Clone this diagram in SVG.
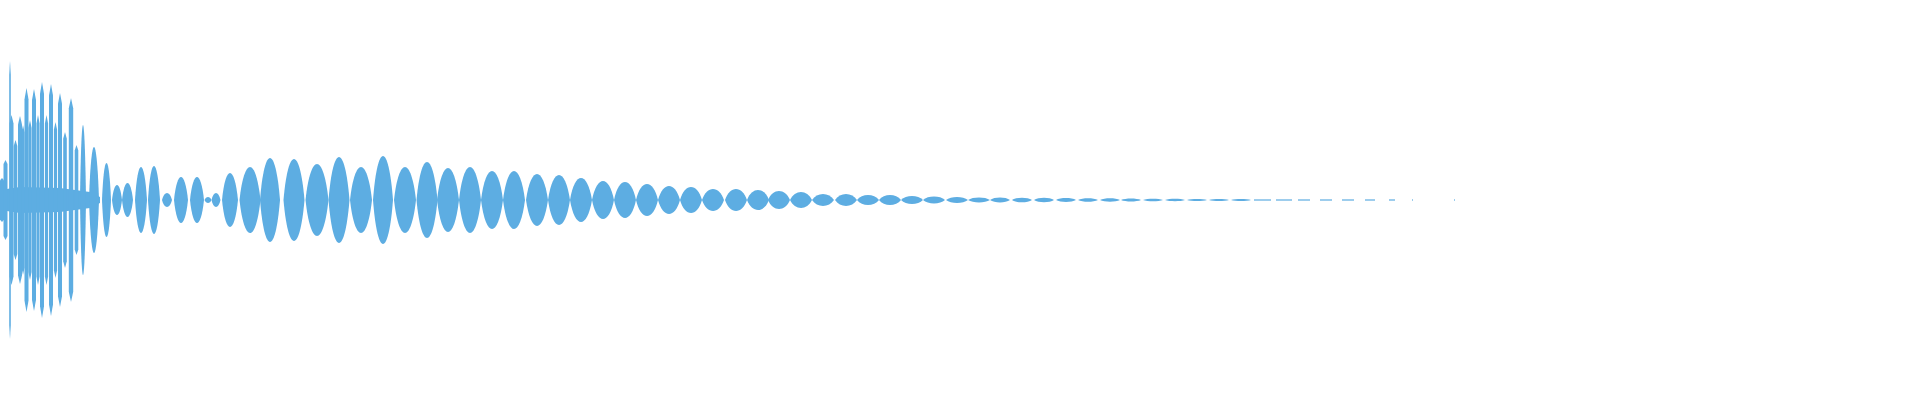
<svg xmlns="http://www.w3.org/2000/svg" xmlns:xlink="http://www.w3.org/1999/xlink" width="1920" height="400" viewBox="0 0 1920 400">
<style>.w{fill:#5DADE2}</style>
<defs>
<path id="L" d="M-1 0C-0.55 -1.333 0.55 -1.333 1 0C0.55 1.333 -0.55 1.333 -1 0Z"/>
<path id="B" d="M-1 -0.9L0 -1L1 -0.9L1 0.9L0 1L-1 0.9Z"/>
</defs>
<rect width="1920" height="400" fill="#fff"/>
<g id="waveform" class="w">
<polygon points="0,190 20,187 60,188 90,192 100,197 100,203 90,208 60,212 20,213 0,210"/>
<use href="#B" transform="translate(10 200) scale(0.8 139)"/>
<use href="#B" transform="translate(2 200) scale(2 22)"/>
<use href="#B" transform="translate(5.5 200) scale(2 40)"/>
<use href="#B" transform="translate(11.5 200) scale(2 85)"/>
<use href="#B" transform="translate(15.5 200) scale(1.8 60)"/>
<use href="#B" transform="translate(20 200) scale(2 84)"/>
<use href="#B" transform="translate(23 200) scale(1.6 75)"/>
<use href="#B" transform="translate(26.5 200) scale(2 112)"/>
<use href="#B" transform="translate(30 200) scale(1.6 80)"/>
<use href="#B" transform="translate(34 200) scale(2 111)"/>
<use href="#B" transform="translate(38 200) scale(1.6 85)"/>
<use href="#B" transform="translate(42 200) scale(2 118)"/>
<use href="#B" transform="translate(46.5 200) scale(1.6 85)"/>
<use href="#B" transform="translate(51 200) scale(2 116)"/>
<use href="#B" transform="translate(55.5 200) scale(1.6 78)"/>
<use href="#B" transform="translate(60 200) scale(2 107)"/>
<use href="#B" transform="translate(65 200) scale(1.8 68)"/>
<use href="#B" transform="translate(71 200) scale(2.2 102)"/>
<use href="#B" transform="translate(76.5 200) scale(1.8 55)"/>
<use href="#L" transform="translate(83 200) scale(3 75)"/>
<use href="#L" transform="translate(94 200) scale(5 53)"/>
<use href="#L" transform="translate(106.5 200) scale(4.5 37)"/>
<use href="#L" transform="translate(117 200) scale(5 15)"/>
<use href="#L" transform="translate(127.5 200) scale(5.5 17)"/>
<use href="#L" transform="translate(141 200) scale(6 33)"/>
<use href="#L" transform="translate(154 200) scale(6 34)"/>
<use href="#L" transform="translate(167 200) scale(5 7)"/>
<use href="#L" transform="translate(181 200) scale(7 23)"/>
<use href="#L" transform="translate(197 200) scale(7 23)"/>
<use href="#L" transform="translate(208 200) scale(3.5 3)"/>
<use href="#L" transform="translate(216 200) scale(4.5 7)"/>
<use href="#L" transform="translate(230 200) scale(8 27)"/>
<use href="#L" transform="translate(250 200) scale(10.5 33)"/>
<use href="#L" transform="translate(270 200) scale(10 42)"/>
<use href="#L" transform="translate(294 200) scale(10.5 41)"/>
<use href="#L" transform="translate(317 200) scale(11.5 36)"/>
<use href="#L" transform="translate(339 200) scale(10.5 43)"/>
<use href="#L" transform="translate(361 200) scale(11 33)"/>
<use href="#L" transform="translate(383 200) scale(10 44)"/>
<use href="#L" transform="translate(405 200) scale(11 33)"/>
<use href="#L" transform="translate(427 200) scale(10.5 38)"/>
<use href="#L" transform="translate(448 200) scale(11 32)"/>
<use href="#L" transform="translate(470 200) scale(11 33)"/>
<use href="#L" transform="translate(492 200) scale(11 29)"/>
<use href="#L" transform="translate(514 200) scale(11 29)"/>
<use href="#L" transform="translate(537 200) scale(11 26)"/>
<use href="#L" transform="translate(559 200) scale(11 25)"/>
<use href="#L" transform="translate(581 200) scale(11 22)"/>
<use href="#L" transform="translate(603 200) scale(11 19)"/>
<use href="#L" transform="translate(625 200) scale(11 18)"/>
<use href="#L" transform="translate(647 200) scale(11 16)"/>
<use href="#L" transform="translate(669 200) scale(11 14)"/>
<use href="#L" transform="translate(691 200) scale(11 13)"/>
<use href="#L" transform="translate(713 200) scale(11 11)"/>
<use href="#L" transform="translate(736 200) scale(11 11)"/>
<use href="#L" transform="translate(758 200) scale(11 10)"/>
<use href="#L" transform="translate(779 200) scale(11 9)"/>
<use href="#L" transform="translate(801 200) scale(11 8)"/>
<use href="#L" transform="translate(823 200) scale(11 6)"/>
<use href="#L" transform="translate(846 200) scale(11 6)"/>
<use href="#L" transform="translate(868 200) scale(11 5)"/>
<use href="#L" transform="translate(890 200) scale(11 5)"/>
<use href="#L" transform="translate(912 200) scale(11 4)"/>
<use href="#L" transform="translate(934 200) scale(11 3.5)"/>
<use href="#L" transform="translate(957 200) scale(11 3)"/>
<use href="#L" transform="translate(979 200) scale(11 2.5)"/>
<use href="#L" transform="translate(1000 200) scale(10 2.5)"/>
<use href="#L" transform="translate(1022 200) scale(10 2.3)"/>
<use href="#L" transform="translate(1044 200) scale(10 2.2)"/>
<use href="#L" transform="translate(1066 200) scale(10 2)"/>
<use href="#L" transform="translate(1088 200) scale(10 1.8)"/>
<use href="#L" transform="translate(1110 200) scale(10 1.7)"/>
<use href="#L" transform="translate(1131 200) scale(10 1.5)"/>
<use href="#L" transform="translate(1153 200) scale(10 1.3)"/>
<use href="#L" transform="translate(1175 200) scale(10 1.2)"/>
<use href="#L" transform="translate(1197 200) scale(10 1.1)"/>
<use href="#L" transform="translate(1219 200) scale(10 1.1)"/>
<use href="#L" transform="translate(1241 200) scale(10 1)"/>
<rect x="1254" y="199.4" width="17" height="1.2"/>
<rect x="1276" y="199.4" width="16" height="1.2"/>
<rect x="1298" y="199.4" width="12" height="1.2"/>
<rect x="1320" y="199.4" width="12" height="1.2"/>
<rect x="1342" y="199.4" width="12" height="1.2"/>
<rect x="1365" y="199.4" width="10" height="1.2"/>
<rect x="1389" y="199.4" width="6" height="1.2"/>
<rect x="1412" y="199.4" width="1" height="1.2"/>
<rect x="1454" y="199.4" width="1" height="1.2"/>
</g>
</svg>
